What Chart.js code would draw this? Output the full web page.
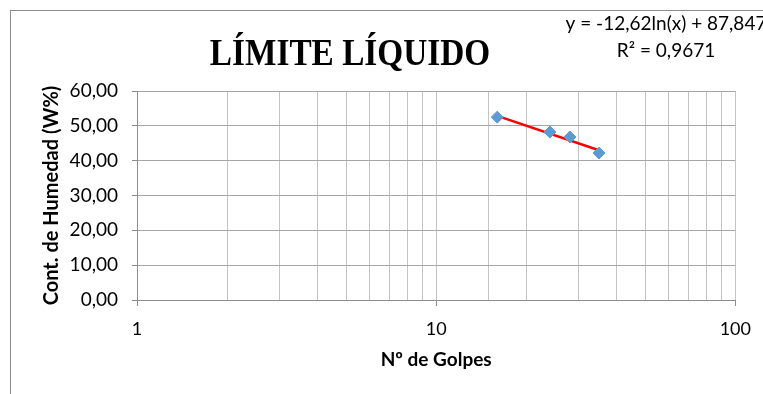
<!DOCTYPE html>
<html>
<head>
<meta charset="utf-8">
<title>Límite Líquido</title>
<script src="https://cdn.jsdelivr.net/npm/chart.js@4.4.1/dist/chart.umd.min.js"></script>
<style>
  html, body { margin: 0; padding: 0; background: #fff; }
  #wrap { position: relative; width: 763px; height: 394px; overflow: hidden; }
  #frame { position: absolute; left: 10px; top: 10px; width: 800px; height: 400px;
           border-left: 1px solid #8c8c8c; border-top: 1px solid #8c8c8c; }
  canvas { position: absolute; left: 0; top: 0; }
</style>
</head>
<body>
<div id="wrap">
  <div id="frame"></div>
  <canvas id="chart" width="763" height="394"></canvas>
</div>
<script>
// ensayo de Casagrande: golpes vs contenido de humedad
const golpes = [16, 24, 28, 35];
const humedad = [52.5, 48.2, 46.8, 42.2];

// linea de tendencia logaritmica y = a ln(x) + b
const trendA = -12.62;
const trendB = 87.847;
const trendR2 = "0,9671";
const trendX = [16, 35];

const yTicks = [0, 10, 20, 30, 40, 50, 60];

const sans = "Lato, 'Open Sans', sans-serif";

function fmtComma(v, d) {
  return v.toFixed(d).replace(".", ",");
}

const trendPts = trendX.map(x => ({x: x, y: trendA * Math.log(x) + trendB}));
const dataPts = golpes.map((g, i) => ({x: g, y: humedad[i]}));

const isMajor = v => Math.abs(Math.log10(v) - Math.round(Math.log10(v))) < 1e-9;

const textPlugin = {
  id: "textos",
  afterDraw(chart) {
    const c = chart.ctx;
    c.save();
    c.fillStyle = "#000";
    c.textBaseline = "alphabetic";
    c.textAlign = "center";
    // titulo en serif, algo estrecho
    c.save();
    c.translate(350, 65);
    c.scale(0.9, 1);
    c.font = "bold 37px 'Liberation Serif', serif";
    c.fillText("LÍMITE LÍQUIDO", 0, 0);
    c.restore();
    // ecuacion de la tendencia
    c.textBaseline = "middle";
    c.font = "19px " + sans;
    c.fillText("y = " + fmtComma(trendA, 2) + "ln(x) + " + fmtComma(trendB, 3), 666, 24);
    c.fillText("R² = " + trendR2, 666, 51);
    c.restore();
  }
};

new Chart(document.getElementById("chart"), {
  type: "scatter",
  data: {
    datasets: [
      {
        label: "Tendencia",
        data: trendPts,
        showLine: true,
        borderColor: "#ff0000",
        borderWidth: 2.5,
        pointRadius: 0,
        order: 2
      },
      {
        label: "W%",
        data: dataPts,
        pointStyle: "rectRot",
        pointRadius: 6,
        backgroundColor: "#5b9bd5",
        borderColor: "#5b9bd5",
        order: 1
      }
    ]
  },
  options: {
    responsive: false,
    animation: false,
    layout: { padding: { left: 0, top: 91, right: 26, bottom: 20 } },
    plugins: {
      legend: { display: false },
      tooltip: { enabled: false }
    },
    scales: {
      x: {
        type: "logarithmic",
        min: 1,
        max: 100,
        afterFit: s => { s.height = 74; },
        border: { color: "#8c8c8c", width: 1 },
        grid: {
          color: "#c4c4c4",
          tickLength: 6,
          tickColor: ctx => (ctx.tick && isMajor(ctx.tick.value)) ? "#8c8c8c" : "rgba(0,0,0,0)"
        },
        ticks: {
          autoSkip: false,
          maxRotation: 0,
          padding: 12,
          color: "#000",
          font: { family: sans, size: 18 },
          callback: v => isMajor(v) ? String(Math.round(v)) : ""
        },
        title: {
          display: true,
          text: "Nº de Golpes",
          color: "#000",
          font: { family: sans, size: 19, weight: "bold" },
          padding: { top: 0, bottom: 3 }
        }
      },
      y: {
        min: 0,
        max: 60,
        afterFit: s => { s.width = 137; },
        afterBuildTicks: s => { s.ticks = yTicks.map(v => ({value: v})); },
        border: { color: "#8c8c8c", width: 1 },
        grid: { color: "#a6a6a6", tickLength: 5, tickColor: "#8c8c8c" },
        ticks: {
          padding: 14,
          color: "#000",
          font: { family: sans, size: 19 },
          callback: v => fmtComma(v, 2)
        },
        title: {
          display: true,
          text: "Cont. de Humedad (W%)",
          color: "#000",
          font: { family: sans, size: 20, weight: "bold" },
          padding: { top: 40, bottom: 0 }
        }
      }
    }
  },
  plugins: [textPlugin]
});
</script>
</body>
</html>
